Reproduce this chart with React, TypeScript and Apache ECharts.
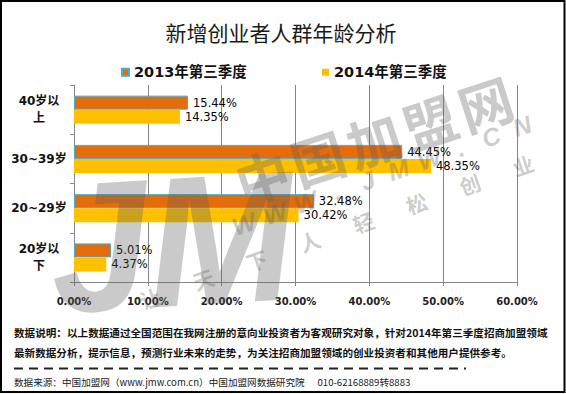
import React, { useEffect, useRef } from 'react';
import * as echarts from 'echarts';

const titleText = '新增创业者人群年龄分析';
const categories = ['40岁以上', '30~39岁', '20~29岁', '20岁以下'];
const seriesNames = ['2013年第三季度', '2014年第三季度'];
const values2013 = [15.44, 44.45, 32.48, 5.01];
const values2014 = [14.35, 48.35, 30.42, 4.37];
const xMin = 0;
const xMax = 60;
const xInterval = 10;
const noteLine1 = '数据说明：以上数据通过全国范围在我网注册的意向业投资者为客观研究对象，针对2014年第三季度招商加盟领域';
const noteLine2 = '最新数据分析，提示信息，预测行业未来的走势，为关注招商加盟领域的创业投资者和其他用户提供参考。';
const sourceLine = '数据来源：中国加盟网（www.jmw.com.cn）中国加盟网数据研究院      010-62168889转8883';
const wmMain = '中国加盟网';
const wmUrl = 'WWW.JMW.CN';
const wmSlogan = '让天下人轻松创业';
const wmLogo = 'JM';

const FONT = '"DejaVu Sans", "Noto Sans CJK SC", sans-serif';
const CJK = '"Noto Sans CJK SC", sans-serif';
const WM_FILL = 'rgba(95,95,95,0.33)';

function charsAlong(text: string, x0: number, y0: number, x1: number, y1: number, rot: number, style: any) {
  const n = text.length;
  const out: any[] = [];
  for (let i = 0; i < n; i++) {
    const t = n === 1 ? 0 : i / (n - 1);
    out.push({
      type: 'text',
      x: x0 + (x1 - x0) * t,
      y: y0 + (y1 - y0) * t,
      rotation: rot,
      z: 50,
      silent: true,
      style: { text: text[i], align: 'center', verticalAlign: 'middle', fill: WM_FILL, ...style },
    });
  }
  return out;
}

export default function App() {
  const ref = useRef<HTMLDivElement>(null);
  useEffect(() => {
    document.body.style.margin = '0';
    if (!ref.current) return;
    const chart = echarts.init(ref.current, undefined, { renderer: 'svg' });
    const deg = Math.PI / 180;
    const graphics: any[] = [
      {
        type: 'rect',
        shape: { x: 1, y: 1, width: 563.5, height: 391 },
        style: { fill: 'none', stroke: '#000', lineWidth: 2 },
        z: 60,
        silent: true,
      },
      {
        type: 'text',
        x: 281,
        y: 32,
        style: { text: titleText, align: 'center', verticalAlign: 'middle', fill: '#1a1a1a', font: `21px ${CJK}` },
      },
      {
        type: 'text',
        x: 14,
        y: 332,
        style: { text: noteLine1, align: 'left', verticalAlign: 'middle', fill: '#111', font: `bold 10.6px ${CJK}` },
      },
      {
        type: 'text',
        x: 14,
        y: 352,
        style: { text: noteLine2, align: 'left', verticalAlign: 'middle', fill: '#111', font: `bold 10.6px ${CJK}` },
      },
      {
        type: 'line',
        shape: { x1: 14, y1: 368.5, x2: 466, y2: 368.5 },
        style: { stroke: '#222', lineWidth: 2, lineDash: [9, 6] },
      },
      {
        type: 'text',
        x: 14,
        y: 382,
        style: { text: sourceLine, align: 'left', verticalAlign: 'middle', fill: '#222', font: `9.6px ${CJK}` },
      },
      {
        type: 'text',
        x: 172,
        y: 242,
        rotation: 0.06,
        scaleX: 0.95,
        z: 50,
        silent: true,
        style: {
          text: wmLogo,
          align: 'center',
          verticalAlign: 'middle',
          fill: WM_FILL,
          font: 'italic bold 185px "Liberation Sans", sans-serif',
        },
      },
      ...charsAlong(wmMain, 262, 175, 485, 102, 18 * deg, { font: `bold 54px ${CJK}` }),
      ...charsAlong(wmUrl, 244, 224, 522, 126, 19 * deg, { font: 'italic bold 25px "Liberation Sans", sans-serif' }),
      ...charsAlong(wmSlogan, 150, 298, 523, 165, 19 * deg, { font: `bold 21px ${CJK}` }),
    ];

    const option: any = {
      animation: false,
      backgroundColor: '#fff',
      grid: { left: 74, right: 49, top: 85, bottom: 112, containLabel: false },
      legend: [
        {
          data: [seriesNames[0]],
          left: 116,
          top: 60,
          itemWidth: 7,
          itemHeight: 7,
          icon: 'rect',
          textStyle: { fontSize: 14.5, fontWeight: 'bold', color: '#111', fontFamily: FONT },
        },
        {
          data: [seriesNames[1]],
          left: 317,
          top: 60,
          itemWidth: 7,
          itemHeight: 7,
          icon: 'rect',
          textStyle: { fontSize: 14.5, fontWeight: 'bold', color: '#111', fontFamily: FONT },
        },
      ],
      xAxis: {
        type: 'value',
        min: xMin,
        max: xMax,
        interval: xInterval,
        axisLine: { show: true, lineStyle: { color: '#868686', width: 1 } },
        axisTick: { show: true, length: 4, lineStyle: { color: '#868686' } },
        splitLine: { show: true, lineStyle: { color: '#868686', width: 1 } },
        axisLabel: {
          margin: 14,
          formatter: (v: number) => v.toFixed(2) + '%',
          fontSize: 10,
          fontWeight: 'bold',
          color: '#222',
          fontFamily: FONT,
        },
      },
      yAxis: {
        type: 'category',
        inverse: true,
        data: categories,
        axisLine: { show: true, lineStyle: { color: '#868686', width: 1 } },
        axisTick: { show: true, length: 4, lineStyle: { color: '#868686' } },
        axisLabel: {
          margin: 35,
          align: 'center',
          fontSize: 12,
          fontWeight: 'bold',
          color: '#111',
          lineHeight: 17,
          fontFamily: FONT,
          formatter: (v: string) => (v.indexOf('以') >= 0 ? v.slice(0, 4) + '\n' + v.slice(4) : v),
        },
      },
      series: [
        {
          name: seriesNames[0],
          type: 'bar',
          data: values2013,
          barWidth: 14,
          barGap: '0%',
          itemStyle: { color: '#E46C0A', borderColor: '#4BACC6', borderWidth: 1 },
          label: {
            show: true,
            position: 'right',
            distance: 5,
            formatter: (p: any) => Number(p.value).toFixed(2) + '%',
            fontSize: 11.5,
            color: '#000',
            fontFamily: FONT,
          },
        },
        {
          name: seriesNames[1],
          type: 'bar',
          data: values2014,
          barWidth: 14,
          barGap: '0%',
          itemStyle: { color: '#FFC000' },
          label: {
            show: true,
            position: 'right',
            distance: 5,
            formatter: (p: any) => Number(p.value).toFixed(2) + '%',
            fontSize: 11.5,
            color: '#000',
            fontFamily: FONT,
          },
        },
      ],
      graphic: graphics,
    };
    chart.setOption(option);
    return () => chart.dispose();
  }, []);
  return <div ref={ref} style={{ width: 566, height: 394 }} />;
}
